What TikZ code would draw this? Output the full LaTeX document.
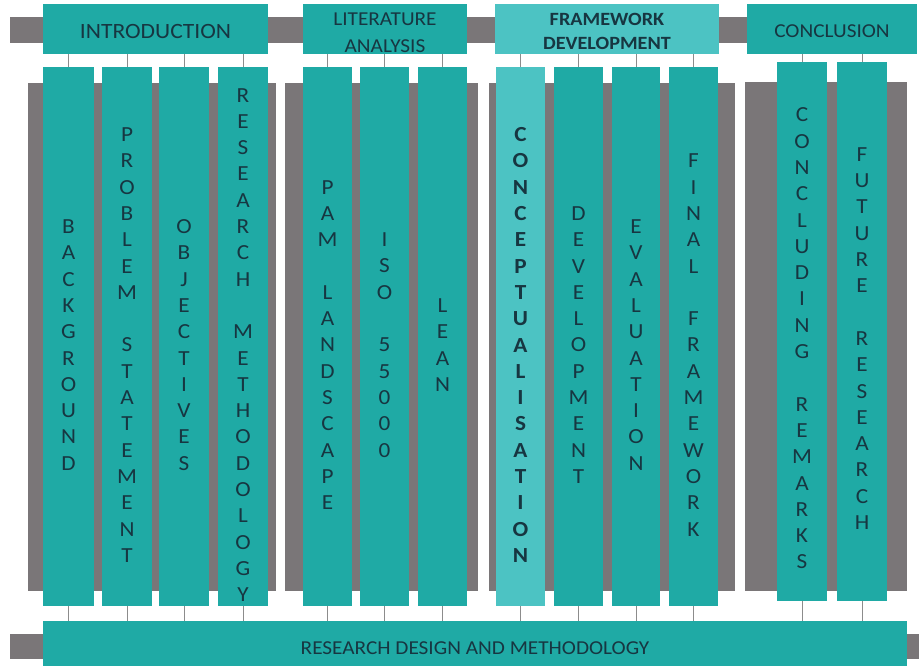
\documentclass[tikz,border=0pt]{standalone}
\usepackage{fontspec}
\setmainfont[FakeStretch=1.08]{Carlito}
\definecolor{tealA}{HTML}{1FAAA5}
\definecolor{tealB}{HTML}{4CC3C3}
\definecolor{greyc}{HTML}{7A7678}
\definecolor{ink}{HTML}{173641}
\definecolor{linec}{HTML}{8C8C8C}
\newcommand\colbox[6]{%
  \node[box, fill=#6, minimum width={(#3)-(#2)}, minimum height={(#5)-(#4)}] (#1) at ({((#2)+(#3))/2},{((#4)+(#5))/2}) {};}
\begin{document}
\begin{tikzpicture}[x=1pt,y=-1pt,
  box/.style={draw=none, inner sep=0pt, outer sep=0pt},
  vlab/.style={align=center, inner sep=0pt, text=ink, font=\fontsize{21.5}{26.3}\selectfont},
  hlab/.style={box, align=center, text=ink, font=\fontsize{21.8}{26}\selectfont},
  conn/.style={draw=linec, line width=0.8pt}]
\useasboundingbox (0,0) rectangle (919,665);
% top grey bar
\fill[greyc] (10,17) rectangle (910,43);
% headers
\node[box, fill=tealA, minimum width=225, minimum height=50] (hIntro) at (155.5,29) {};
\node[box, fill=tealA, minimum width=164, minimum height=50] (hLit) at (385,29) {};
\node[box, fill=tealB, minimum width=224, minimum height=50] (hFrame) at (607,29) {};
\node[box, fill=tealA, minimum width=170, minimum height=50] (hConc) at (832,29) {};
\node[hlab] (tIntro) at ([yshift=-3pt]hIntro.center) {INTRODUCTION};
\node[hlab, font=\fontsize{19.7}{27.5}\selectfont] (tLit) at ([yshift=-3.5pt]hLit.center) {LITERATURE\\ANALYSIS};
\node[hlab, font=\fontsize{18.7}{23.5}\selectfont\bfseries] (tFrame) at ([yshift=-2.5pt]hFrame.center) {FRAMEWORK\\DEVELOPMENT};
\node[hlab, font=\fontsize{19.7}{26}\selectfont] (tConcH) at ([yshift=-2.5pt]hConc.center) {CONCLUSION};
% grey panels
\fill[greyc] (28,83) rectangle (276,591);
\fill[greyc] (285,83) rectangle (478,591);
\fill[greyc] (489,83) rectangle (735,591);
\fill[greyc] (745,82) rectangle (907,591);
% columns
\colbox{cBack}{43}{94}{67}{606}{tealA}
\colbox{cProb}{102}{152}{67}{606}{tealA}
\colbox{cObj}{159}{209}{67}{606}{tealA}
\colbox{cRes}{218}{268}{67}{606}{tealA}
\colbox{cPam}{303}{352}{67}{606}{tealA}
\colbox{cIso}{360}{409}{67}{606}{tealA}
\colbox{cLean}{418}{467}{67}{606}{tealA}
\colbox{cConc}{496}{545}{67}{606}{tealB}
\colbox{cDev}{554}{603}{67}{606}{tealA}
\colbox{cEval}{612}{660}{67}{606}{tealA}
\colbox{cFin}{669}{718}{67}{606}{tealA}
\colbox{cRem}{777}{827}{62}{601}{tealA}
\colbox{cFut}{837}{887}{62}{601}{tealA}
% column labels
\node[vlab] (tBack) at ([yshift=-8.5pt]cBack.center) {B\\A\\C\\K\\G\\R\\O\\U\\N\\D};
\node[vlab] (tProb) at ([yshift=-8.5pt]cProb.center) {P\\R\\O\\B\\L\\E\\M\\~\\S\\T\\A\\T\\E\\M\\E\\N\\T};
\node[vlab] (tObj) at ([yshift=-8.5pt]cObj.center) {O\\B\\J\\E\\C\\T\\I\\V\\E\\S};
\node[vlab] (tRes) at ([yshift=-8.5pt]cRes.center) {R\\E\\S\\E\\A\\R\\C\\H\\~\\M\\E\\T\\H\\O\\D\\O\\L\\O\\G\\Y};
\node[vlab] (tPam) at ([yshift=-8.5pt]cPam.center) {P\\A\\M\\~\\L\\A\\N\\D\\S\\C\\A\\P\\E};
\node[vlab] (tIso) at ([yshift=-8.5pt]cIso.center) {I\\S\\O\\~\\5\\5\\0\\0\\0};
\node[vlab] (tLean) at ([yshift=-8.5pt]cLean.center) {L\\E\\A\\N};
\node[vlab, font=\fontsize{21.5}{26.3}\selectfont\bfseries] (tConc) at ([yshift=-8.5pt]cConc.center) {C\\O\\N\\C\\E\\P\\T\\U\\A\\L\\I\\S\\A\\T\\I\\O\\N};
\node[vlab] (tDev) at ([yshift=-8.5pt]cDev.center) {D\\E\\V\\E\\L\\O\\P\\M\\E\\N\\T};
\node[vlab] (tEval) at ([yshift=-8.5pt]cEval.center) {E\\V\\A\\L\\U\\A\\T\\I\\O\\N};
\node[vlab] (tFin) at ([yshift=-8.5pt]cFin.center) {F\\I\\N\\A\\L\\~\\F\\R\\A\\M\\E\\W\\O\\R\\K};
\node[vlab] (tRem) at ([yshift=-7pt]cRem.center) {C\\O\\N\\C\\L\\U\\D\\I\\N\\G\\~\\R\\E\\M\\A\\R\\K\\S};
\node[vlab] (tFut) at ([yshift=-7pt]cFut.center) {F\\U\\T\\U\\R\\E\\~\\R\\E\\S\\E\\A\\R\\C\\H};
% bottom bar
\fill[greyc] (10,634) rectangle (43,659);
\fill[greyc] (907,634) rectangle (919,659);
\node[box, fill=tealA, minimum width=864, minimum height=52] (bottom) at (475,647) {};
\node[hlab, font=\fontsize{19.7}{26}\selectfont] (tBottom) at ([yshift=-1pt]bottom.center) {RESEARCH DESIGN AND METHODOLOGY};
% connectors
\foreach \c/\h in {cBack/hIntro, cProb/hIntro, cObj/hIntro, cRes/hIntro,
                   cPam/hLit, cIso/hLit, cLean/hLit,
                   cConc/hFrame, cDev/hFrame, cEval/hFrame, cFin/hFrame,
                   cRem/hConc, cFut/hConc}{
  \draw[conn] (\c.north) -- (\c.north |- \h.south);
  \draw[conn] (\c.south) -- (\c.south |- bottom.north);
}
\end{tikzpicture}
\end{document}
